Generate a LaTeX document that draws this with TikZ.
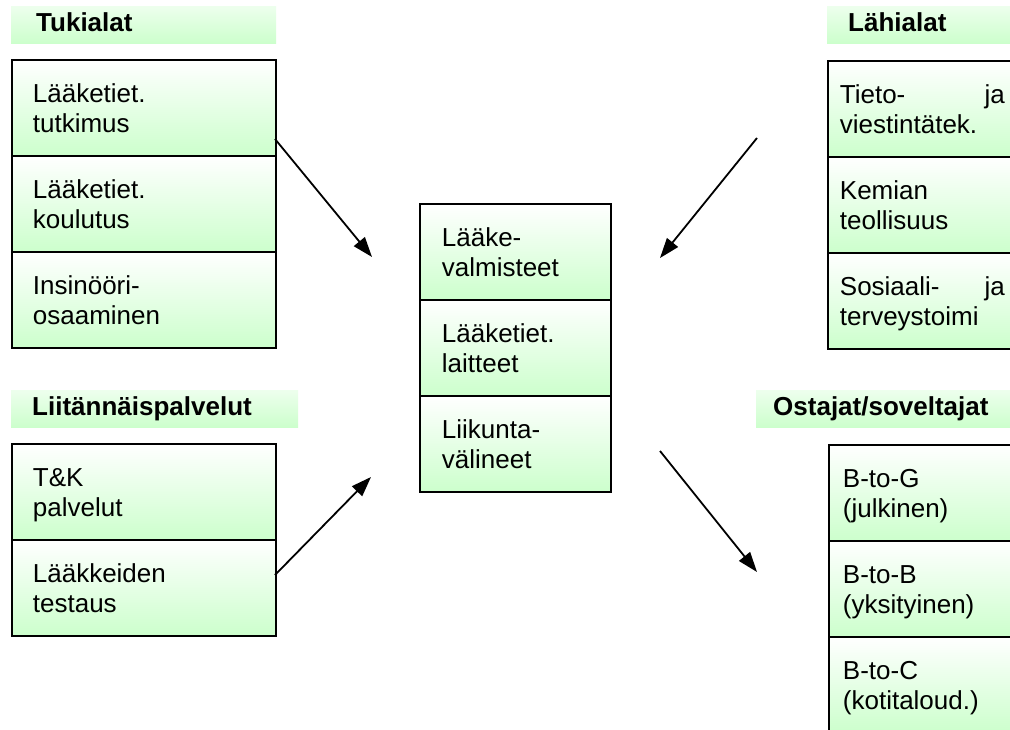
\documentclass[tikz,border=0pt]{standalone}
\usepackage{fontspec}
\setmainfont{Liberation Sans}
\usetikzlibrary{arrows.meta}
\definecolor{cellgreen}{RGB}{204,255,204}
\begin{document}
\begin{tikzpicture}[x=1pt,y=-1pt,
  cell/.style={draw=black, line width=1.8pt, top color=white, bottom color=cellgreen,
    anchor=north west, inner ysep=0pt, text height=43pt, text depth=53pt,
    minimum height=96pt, align=left, font=\fontsize{26}{30}\selectfont},
  lcell/.style={cell, inner xsep=21pt, text width=222pt},
  ccell/.style={cell, inner xsep=22pt, text width=147pt},
  rcell/.style={cell, inner xsep=12pt, text width=165pt},
  bcell/.style={cell, inner xsep=14pt, text width=160pt},
  head/.style={top color=cellgreen!35, bottom color=cellgreen, anchor=north west,
    inner ysep=0pt, text height=25pt, text depth=12pt, align=left,
    font=\bfseries\fontsize{26}{28}\selectfont},
  arr/.style={line width=1.8pt, -{Triangle[length=20pt,width=14pt]}}]
\useasboundingbox (0,0) rectangle (1010,729);
\clip (0,0) rectangle (1010,729);
\fill[white] (0,0) rectangle (1010,729);

% headers
\node[head, inner xsep=25pt, text width=215pt] (h1) at (11,6) {Tukialat};
\node[head, inner xsep=21pt, text width=147pt] (h2) at (827,6) {Lähialat};
\node[head, inner xsep=21pt, text width=245pt] (h3) at (11,390) {Liitännäispalvelut};
\node[head, inner xsep=17pt, text width=243pt] (h4) at (756,390) {Ostajat/soveltajat};

% left top
\node[lcell] (l1) at (11,59) {Lääketiet.\\tutkimus};
\node[lcell] (l2) at (11,155) {Lääketiet.\\koulutus};
\node[lcell] (l3) at (11,251) {Insinööri-\\osaaminen};

% center
\node[ccell] (c1) at (419,203) {Lääke-\\valmisteet};
\node[ccell] (c2) at (419,299) {Lääketiet.\\laitteet};
\node[ccell] (c3) at (419,395) {Liikunta-\\välineet};

% right top
\node[rcell] (r1) at (827,60) {Tieto-\hfill ja\\viestintätek.};
\node[rcell] (r2) at (827,156) {Kemian\\teollisuus};
\node[rcell] (r3) at (827,252) {Sosiaali-\hfill ja\\terveystoimi};

% left bottom
\node[lcell] (lb1) at (11,443) {T\&K\\palvelut};
\node[lcell] (lb2) at (11,539) {Lääkkeiden\\testaus};

% right bottom
\node[bcell] (rb1) at (828,444) {B-to-G\\(julkinen)};
\node[bcell] (rb2) at (828,540) {B-to-B\\(yksityinen)};
\node[bcell] (rb3) at (828,636) {B-to-C\\(kotitaloud.)};

% arrows
\coordinate (a1s) at (275,139); \coordinate (a1e) at (372,257);
\coordinate (a2s) at (757,138); \coordinate (a2e) at (660,258);
\coordinate (a3s) at (275,575); \coordinate (a3e) at (371,477);
\coordinate (a4s) at (660,451); \coordinate (a4e) at (757,572);
\draw[arr] (a1s) -- (a1e);
\draw[arr] (a2s) -- (a2e);
\draw[arr] (a3s) -- (a3e);
\draw[arr] (a4s) -- (a4e);
\end{tikzpicture}
\end{document}
